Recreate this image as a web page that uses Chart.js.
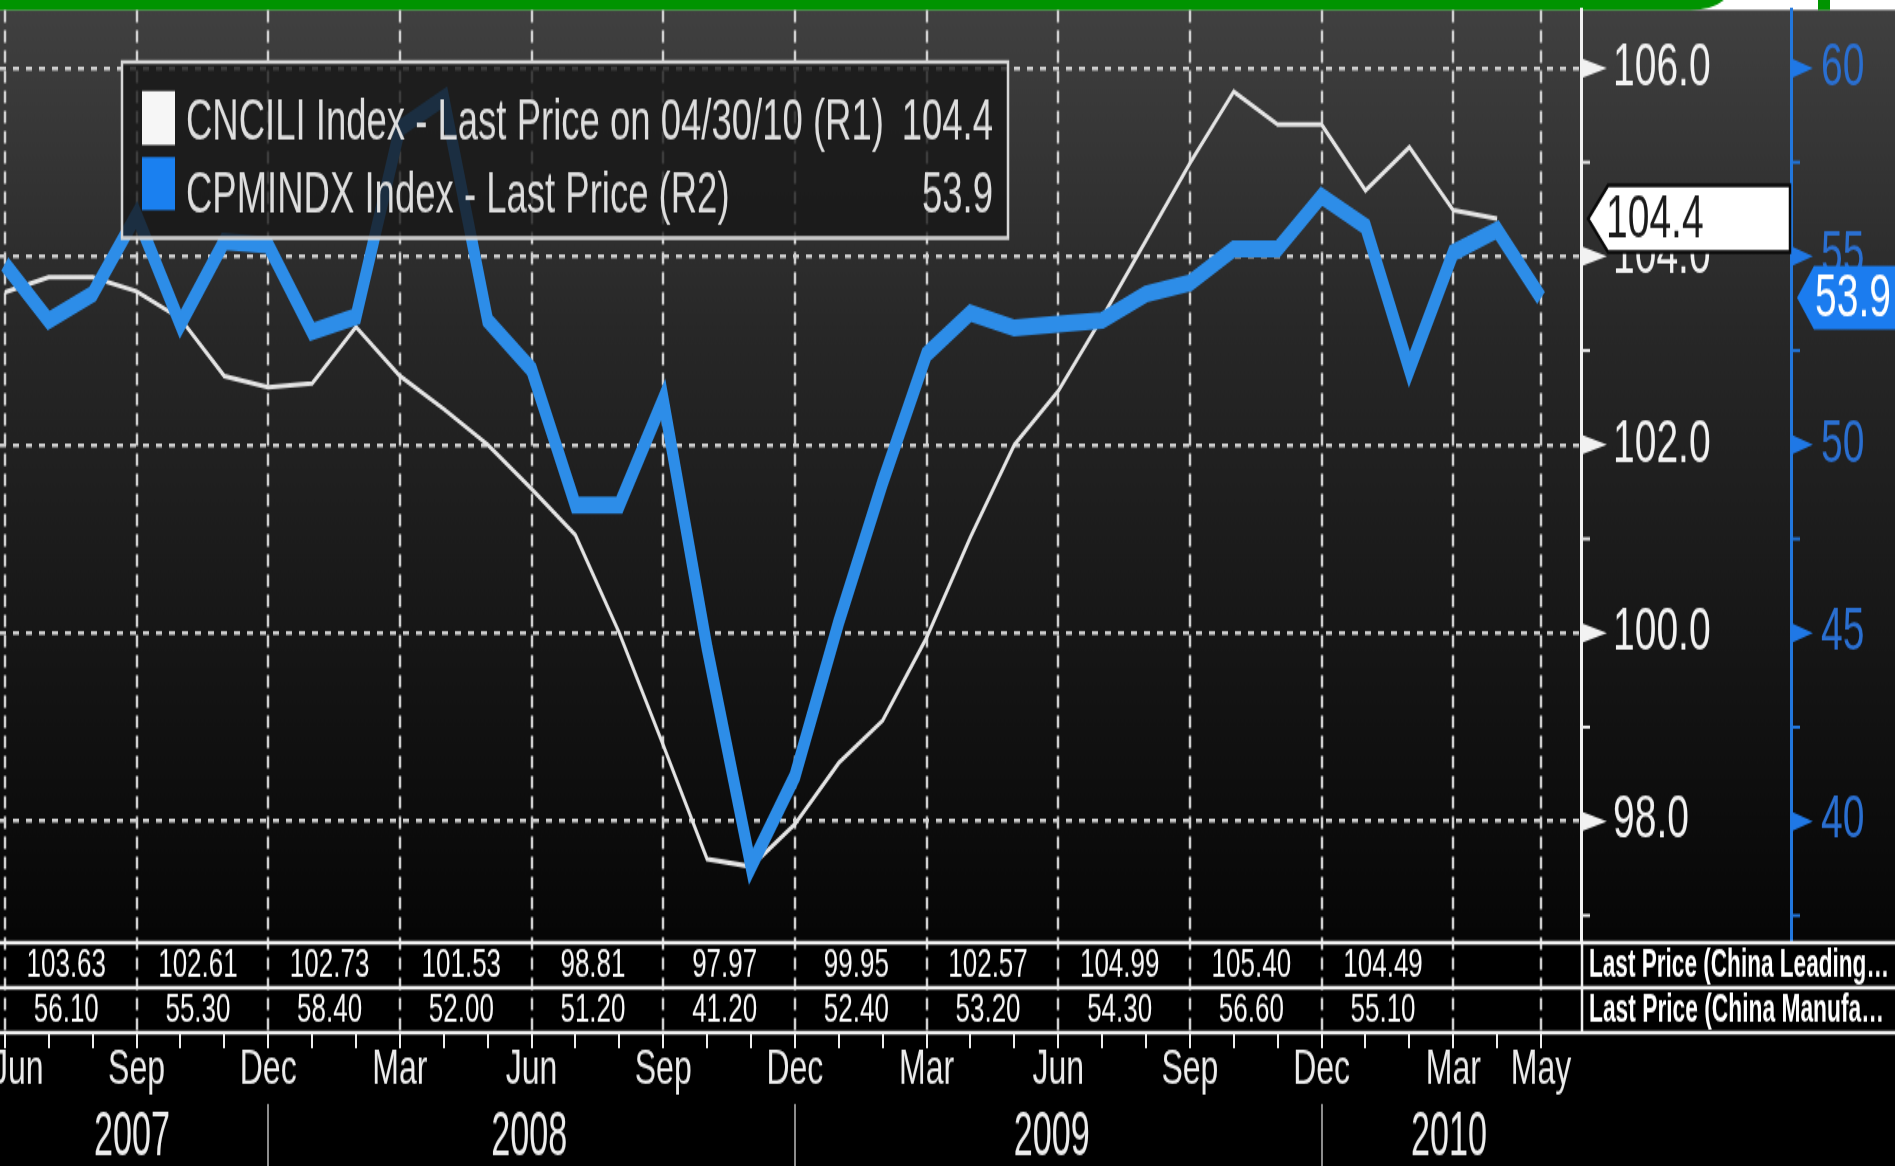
<!DOCTYPE html>
<html>
<head>
<meta charset="utf-8">
<title>CNCILI vs CPMINDX</title>
<script src="https://cdn.jsdelivr.net/npm/chart.js@4.4.1/dist/chart.umd.min.js"></script>
<style>
  html, body { margin: 0; padding: 0; background: #000; width: 1895px; height: 1166px; overflow: hidden; }
  /* the terminal screenshot is stretched vertically, so draw short and scale up */
  #wrap { width: 1895px; height: 752px; transform: scaleY(1.5505); transform-origin: 0 0; }
  canvas { display: block; }
</style>
</head>
<body>
<div id="wrap"><canvas id="chinaChart" width="1895" height="752"></canvas></div>
<script>
// months on the x axis, index 0 = Jun 2007
const months = [
  'Jun 07', 'Jul 07', 'Aug 07', 'Sep 07', 'Oct 07', 'Nov 07', 'Dec 07',
  'Jan 08', 'Feb 08', 'Mar 08', 'Apr 08', 'May 08', 'Jun 08', 'Jul 08', 'Aug 08', 'Sep 08', 'Oct 08', 'Nov 08', 'Dec 08',
  'Jan 09', 'Feb 09', 'Mar 09', 'Apr 09', 'May 09', 'Jun 09', 'Jul 09', 'Aug 09', 'Sep 09', 'Oct 09', 'Nov 09', 'Dec 09',
  'Jan 10', 'Feb 10', 'Mar 10', 'Apr 10', 'May 10'
];

// CNCILI Index - China leading index (R1)
const leadingIndex = [
  103.62, 103.78, 103.78, 103.63, 103.34, 102.73, 102.61,
  102.65, 103.25, 102.73, 102.38, 102.00, 101.53, 101.04, 100.00, 98.81, 97.60, 97.52, 97.97,
  98.62, 99.07, 99.95, 101.02, 102.00, 102.57, 103.35, 104.17, 104.99, 105.75, 105.40, 105.40,
  104.70, 105.16, 104.49, 104.40, null
];

// CPMINDX Index - China manufacturing PMI (R2)
const pmi = [
  54.8, 53.3, 54.0, 56.1, 53.2, 55.4, 55.3,
  53.0, 53.4, 58.4, 59.2, 53.3, 52.0, 48.4, 48.4, 51.2, 44.6, 38.8, 41.2,
  45.3, 49.0, 52.4, 53.5, 53.1, 53.2, 53.3, 54.0, 54.3, 55.2, 55.2, 56.6,
  55.8, 52.0, 55.1, 55.7, 53.9
];

// x axis labels
const monthTicks = ['Jun', 'Sep', 'Dec', 'Mar', 'Jun', 'Sep', 'Dec', 'Mar', 'Jun', 'Sep', 'Dec', 'Mar', 'May'];
const monthTickIdx = [0, 3, 6, 9, 12, 15, 18, 21, 24, 27, 30, 33, 35];
const years = ['2007', '2008', '2009', '2010'];
const yearLabelIdx = [2.9, 11.95, 23.85, 32.9];
const yearSplitIdx = [6, 18, 30];
// quarter months listed in the data table under the plot
const tableIdx = [3, 6, 9, 12, 15, 18, 21, 24, 27, 30, 33];

const lastDate = '04/30/10';
const FONT = "'Liberation Sans', Arial, sans-serif";
const lastOf = arr => arr.filter(v => v !== null).slice(-1)[0];

// right axes: fixed width, and no extra top/bottom room for the labels
const fixAxis = w => s => { s.width = w; s.paddingTop = 0; s.paddingBottom = 0; };

const terminalPlugin = {
  id: 'terminal',
  beforeDraw(chart) {
    const { ctx, width, height, chartArea } = chart;
    ctx.save();
    ctx.fillStyle = '#000';
    ctx.fillRect(0, 0, width, height);
    const g = ctx.createLinearGradient(0, chartArea.top, 0, chartArea.bottom);
    g.addColorStop(0, '#404040');
    g.addColorStop(0.35, '#272727');
    g.addColorStop(0.7, '#151515');
    g.addColorStop(1, '#060606');
    ctx.fillStyle = g;
    ctx.fillRect(0, chartArea.top, width, chartArea.bottom - chartArea.top);
    // top strip
    ctx.fillStyle = '#fff';
    ctx.fillRect(0, 0, width, chartArea.top);
    ctx.fillStyle = '#009400';
    ctx.beginPath();
    ctx.moveTo(0, 0);
    ctx.lineTo(1724, 0);
    ctx.quadraticCurveTo(1712, chartArea.top, 1690, chartArea.top);
    ctx.lineTo(0, chartArea.top);
    ctx.closePath();
    ctx.fill();
    ctx.fillRect(1818, 0, 12, chartArea.top);
    ctx.restore();
  },
  beforeDatasetsDraw(chart) {
    // dashed quarter lines, running down through the table
    const { ctx, chartArea, scales: { x } } = chart;
    ctx.save();
    ctx.strokeStyle = '#d0d0d0';
    ctx.lineWidth = 2.5;
    ctx.setLineDash([8, 5]);
    [0].concat(tableIdx, [35]).forEach(i => {
      const px = Math.round(x.getPixelForValue(i));
      ctx.beginPath();
      ctx.moveTo(px, chartArea.top);
      ctx.lineTo(px, chartArea.bottom + 59);
      ctx.stroke();
    });
    ctx.restore();
  },
  afterDraw(chart) {
    const { ctx, width, chartArea, scales: { x, y, y2 } } = chart;
    const top = chartArea.bottom;
    ctx.save();

    // minor ticks and arrow markers on both right axes
    ctx.lineWidth = 2;
    for (let v = 97; v <= 105; v += 2) {
      const py = y.getPixelForValue(v);
      ctx.strokeStyle = '#eee';
      ctx.beginPath(); ctx.moveTo(chartArea.right, py); ctx.lineTo(chartArea.right + 9, py); ctx.stroke();
    }
    for (let v = 37.5; v <= 57.5; v += 5) {
      const py = y2.getPixelForValue(v);
      ctx.strokeStyle = '#2277dd';
      ctx.beginPath(); ctx.moveTo(y2.left, py); ctx.lineTo(y2.left + 9, py); ctx.stroke();
    }
    y.ticks.forEach(t => {
      const py = y.getPixelForValue(t.value);
      ctx.fillStyle = '#f2f2f2';
      ctx.beginPath();
      ctx.moveTo(chartArea.right, py - 6.5); ctx.lineTo(chartArea.right + 26, py); ctx.lineTo(chartArea.right, py + 6.5);
      ctx.fill();
    });
    y2.ticks.forEach(t => {
      const py = y2.getPixelForValue(t.value);
      ctx.fillStyle = '#1f78e6';
      ctx.beginPath();
      ctx.moveTo(y2.left, py - 6.5); ctx.lineTo(y2.left + 22, py); ctx.lineTo(y2.left, py + 6.5);
      ctx.fill();
    });

    // last value boxes
    const lastLead = lastOf(leadingIndex);
    const lastPmi = lastOf(pmi);
    let cy = y.getPixelForValue(lastLead);
    ctx.fillStyle = '#fff';
    ctx.strokeStyle = '#0a0a0a';
    ctx.lineWidth = 2.5;
    ctx.beginPath();
    ctx.moveTo(1588, cy); ctx.lineTo(1608, cy - 21.5); ctx.lineTo(y2.left - 1, cy - 21.5);
    ctx.lineTo(y2.left - 1, cy + 21.5); ctx.lineTo(1608, cy + 21.5); ctx.closePath();
    ctx.fill(); ctx.stroke();
    ctx.font = '39px ' + FONT;
    ctx.textBaseline = 'middle';
    ctx.textAlign = 'left';
    ctx.fillStyle = '#1a1a1a';
    ctx.fillText(lastLead.toFixed(1), 1606, cy + 1);

    cy = y2.getPixelForValue(lastPmi);
    ctx.fillStyle = '#1b7cef';
    ctx.beginPath();
    ctx.moveTo(1797, cy); ctx.lineTo(1814, cy - 20.5); ctx.lineTo(width, cy - 20.5);
    ctx.lineTo(width, cy + 20.5); ctx.lineTo(1814, cy + 20.5); ctx.closePath();
    ctx.fill();
    ctx.fillStyle = '#fff';
    ctx.fillText(lastPmi.toFixed(1), 1815, cy + 1);

    // legend
    ctx.fillStyle = 'rgba(22,22,22,0.8)';
    ctx.fillRect(122, 40, 886, 113.5);
    ctx.strokeStyle = '#d6d6d6';
    ctx.lineWidth = 2.5;
    ctx.strokeRect(122, 40, 886, 113.5);
    ctx.fillStyle = '#f6f6f6';
    ctx.fillRect(142, 58.7, 33, 34.8);
    ctx.fillStyle = '#1a80f0';
    ctx.fillRect(142, 101.3, 33, 34.2);
    ctx.font = '36.5px ' + FONT;
    ctx.textBaseline = 'alphabetic';
    ctx.fillStyle = '#dedede';
    ctx.fillText('CNCILI Index - Last Price on ' + lastDate + ' (R1)', 186, 90.3);
    ctx.fillText('CPMINDX Index - Last Price (R2)', 186, 136.6);
    ctx.textAlign = 'right';
    ctx.fillText(lastLead.toFixed(1), 993, 90.3);
    ctx.fillText(lastPmi.toFixed(1), 993, 136.6);

    // data table under the plot
    const rows = [top + 1.5, top + 30.5, top + 59.5];
    ctx.strokeStyle = '#f0f0f0';
    ctx.lineWidth = 2.5;
    rows.forEach(ry => {
      ctx.beginPath(); ctx.moveTo(0, ry); ctx.lineTo(width, ry); ctx.stroke();
    });
    ctx.beginPath(); ctx.moveTo(chartArea.right + 1, top); ctx.lineTo(chartArea.right + 1, rows[2]); ctx.stroke();
    ctx.font = '26px ' + FONT;
    ctx.textAlign = 'center';
    ctx.textBaseline = 'middle';
    ctx.fillStyle = '#fafafa';
    tableIdx.forEach(i => {
      const px = x.getPixelForValue(i - 1.6);
      ctx.fillText(leadingIndex[i].toFixed(2), px, top + 16.5);
      ctx.fillText(pmi[i].toFixed(2), px, top + 45.5);
    });
    ctx.font = 'bold 26px ' + FONT;
    ctx.textAlign = 'left';
    ctx.fillStyle = '#fff';
    ctx.fillText('Last Price (China Leading\u2026', chartArea.right + 8, top + 16.5, 300);
    ctx.fillText('Last Price (China Manufa\u2026', chartArea.right + 8, top + 45.5, 295);

    // month ticks and labels
    ctx.strokeStyle = '#eee';
    ctx.lineWidth = 2;
    months.forEach((m, i) => {
      const px = Math.round(x.getPixelForValue(i));
      ctx.beginPath(); ctx.moveTo(px, rows[2]); ctx.lineTo(px, rows[2] + 10); ctx.stroke();
    });
    ctx.font = '32px ' + FONT;
    ctx.textAlign = 'center';
    ctx.fillStyle = '#ececec';
    monthTicks.forEach((m, k) => {
      let px = x.getPixelForValue(monthTickIdx[k]);
      const w = ctx.measureText(m).width;
      px = Math.max(px, w / 2 - 8);
      ctx.fillText(m, px, 690);
    });
    ctx.font = '40px ' + FONT;
    years.forEach((yr, k) => {
      ctx.fillText(yr, x.getPixelForValue(yearLabelIdx[k]), 734, 76);
    });
    ctx.strokeStyle = '#bbb';
    ctx.lineWidth = 1.5;
    yearSplitIdx.forEach(i => {
      const px = Math.round(x.getPixelForValue(i));
      ctx.beginPath(); ctx.moveTo(px, 712); ctx.lineTo(px, 752); ctx.stroke();
    });
    ctx.restore();
  }
};

const ctx = document.getElementById('chinaChart').getContext('2d');
const chinaChart = new Chart(ctx, {
  type: 'line',
  data: {
    datasets: [{
      label: 'CPMINDX Index',
      data: pmi.map((v, i) => ({ x: i, y: v })),
      yAxisID: 'y2',
      borderColor: '#2d8de8',
      borderWidth: 11,
      pointRadius: 0,
      tension: 0,
      order: 1
    }, {
      label: 'CNCILI Index',
      data: leadingIndex.map((v, i) => ({ x: i, y: v })),
      yAxisID: 'y',
      borderColor: '#e4e4e4',
      borderWidth: 3,
      pointRadius: 0,
      tension: 0,
      order: 2
    }]
  },
  options: {
    responsive: false,
    devicePixelRatio: 1,
    animation: false,
    events: [],
    layout: { padding: { top: 6.5, bottom: 145.5, left: 0, right: 0 } },
    plugins: { legend: { display: false }, tooltip: { enabled: false } },
    scales: {
      x: { type: 'linear', display: false, min: -0.11, max: 35.91 },
      y: {
        position: 'right',
        weight: 0,
        min: 96.735,
        max: 106.616,
        afterFit: fixAxis(210),
        ticks: {
          stepSize: 2, includeBounds: false, padding: 32,
          color: '#f2f2f2', font: { family: FONT, size: 39 },
          callback: v => v.toFixed(1)
        },
        grid: { color: '#cdcdcd', lineWidth: 2.5, drawTicks: false },
        border: { color: '#f2f2f2', width: 3, dash: [6, 7] }
      },
      y2: {
        position: 'right',
        weight: 1,
        min: 36.84,
        max: 61.54,
        afterFit: fixAxis(104),
        ticks: {
          stepSize: 5, includeBounds: false, padding: 30,
          color: '#2a6fd1', font: { family: FONT, size: 39 },
          callback: v => String(v)
        },
        grid: { display: false, drawTicks: false },
        border: { color: '#2277dd', width: 3 }
      }
    }
  },
  plugins: [terminalPlugin]
});
</script>
</body>
</html>
